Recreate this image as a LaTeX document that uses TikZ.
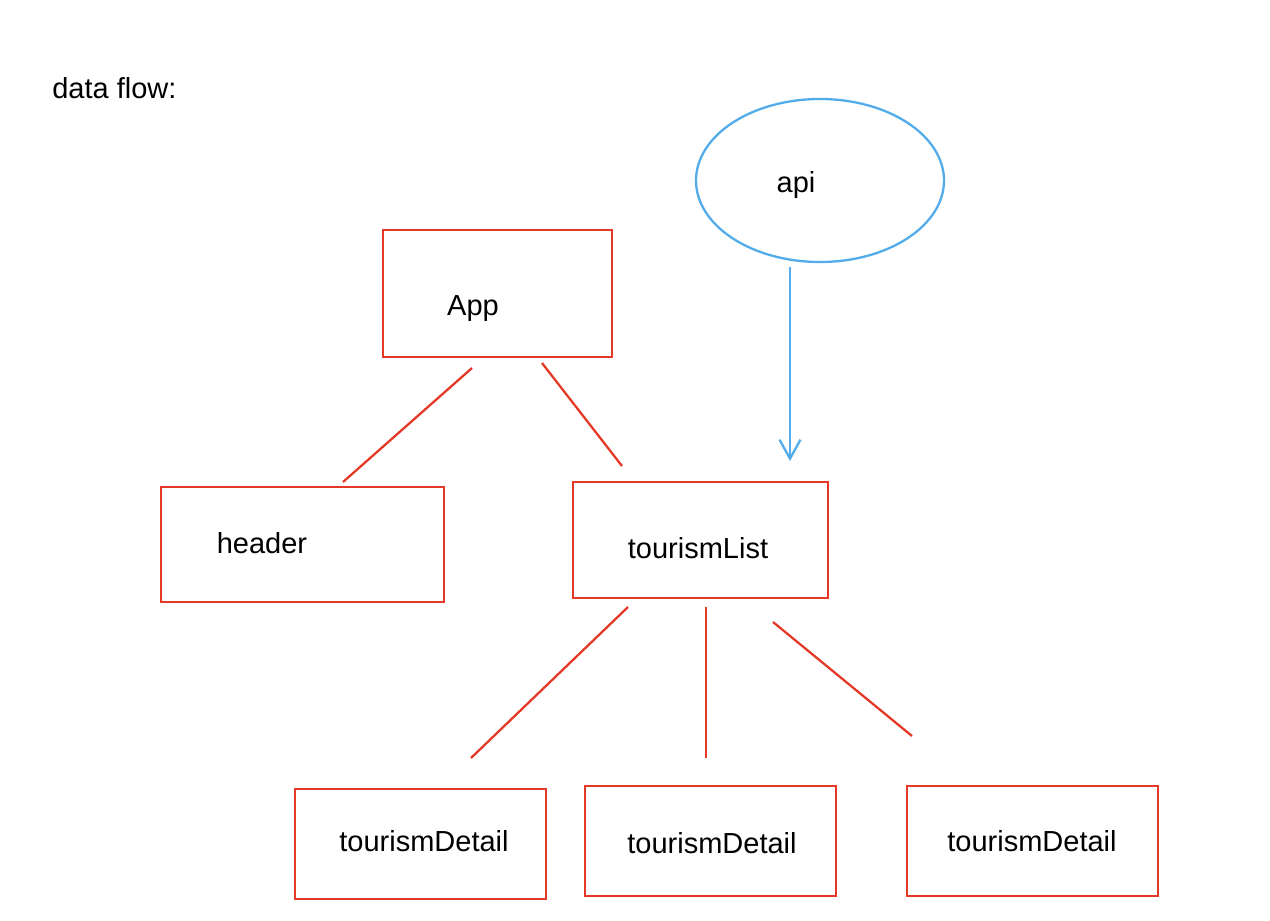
\documentclass[tikz,border=0pt]{standalone}
\usepackage{fontspec}
\setmainfont{Liberation Sans}
\usetikzlibrary{arrows.meta,shapes.geometric}
\newdimen\pxu \pxu=0.02cm
\definecolor{boxred}{RGB}{229,57,40}
\definecolor{apiblue}{RGB}{82,172,234}
\begin{document}
\begin{tikzpicture}[x=0.02cm,y=-0.02cm,
  comp/.style={draw=boxred,line width=1.4pt,inner sep=0pt},
  link/.style={draw=boxred,line width=1.3pt},
  lbl/.style={inner sep=0pt,font=\fontsize{16.5}{20}\selectfont},
  flow/.style={draw=apiblue,line width=1.3pt,-{Straight Barb[length=0.38cm,width=0.42cm,line width=1.3pt]}}]
\useasboundingbox (0,0) rectangle (1270,920);
\node[lbl,anchor=base west] (title) at (52,98) {data flow:};
\node[draw=apiblue,line width=1.3pt,ellipse,minimum width=248\pxu,minimum height=163\pxu,inner sep=0pt] (api) at (820,180.5) {};
\node[lbl] (apit) at (796,185) {api};
\node[comp,minimum width=229\pxu,minimum height=127\pxu] (app) at (497.5,293.5) {};
\node[lbl] (appt) at (473,309) {App};
\node[comp,minimum width=283\pxu,minimum height=115\pxu] (header) at (302.5,544.5) {};
\node[lbl] (headert) at (262,543) {header};
\node[comp,minimum width=255\pxu,minimum height=116\pxu] (list) at (700.5,540) {};
\node[lbl] (listt) at (698,548) {tourismList};
\node[comp,minimum width=251\pxu,minimum height=110\pxu] (d1) at (420.5,844) {};
\node[lbl] (d1t) at (424,841) {tourismDetail};
\node[comp,minimum width=251\pxu,minimum height=110\pxu] (d2) at (710.5,841) {};
\node[lbl] (d2t) at (712,843) {tourismDetail};
\node[comp,minimum width=251\pxu,minimum height=110\pxu] (d3) at (1032.5,841) {};
\node[lbl] (d3t) at (1032,841) {tourismDetail};
% connector end points
\coordinate (appA) at (472,368);
\coordinate (headerA) at (343,482);
\coordinate (appB) at (542,363);
\coordinate (listA) at (622,466);
\coordinate (apiA) at (790,267);
\coordinate (listB) at (790,461);
\coordinate (listC) at (628,607);
\coordinate (d1A) at (471,758);
\coordinate (listD) at (706,607);
\coordinate (d2A) at (706,758);
\coordinate (listE) at (773,622);
\coordinate (d3A) at (912,736);
\draw[link] (appA) -- (headerA);
\draw[link] (appB) -- (listA);
\draw[flow] (apiA) -- (listB);
\draw[link] (listC) -- (d1A);
\draw[link] (listD) -- (d2A);
\draw[link] (listE) -- (d3A);
\end{tikzpicture}
\end{document}
